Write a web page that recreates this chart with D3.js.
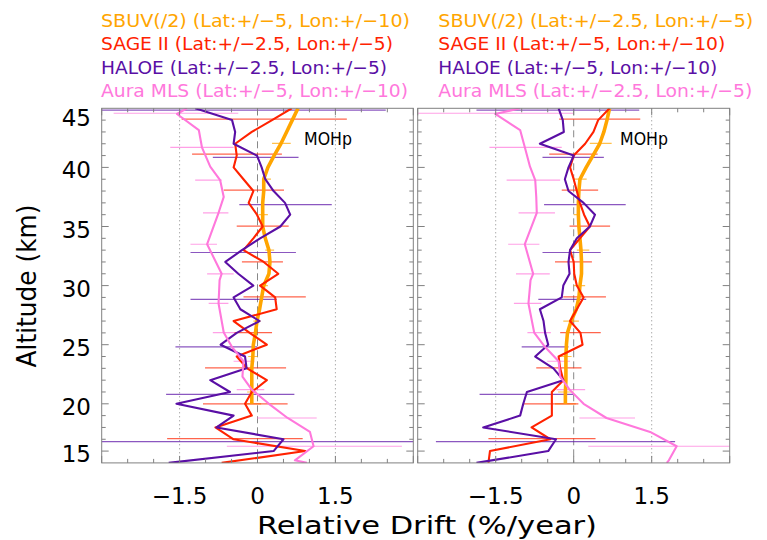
<!DOCTYPE html>
<html lang="en">
<head>
<meta charset="UTF-8">
<title>Relative Drift vs Altitude</title>
<script src="https://cdn.jsdelivr.net/npm/d3@7"></script>
<style>
  body { margin: 0; background: #fff; }
  svg { display: block; font-family: "DejaVu Sans", sans-serif; }
</style>
</head>
<body>
<svg id="chart" width="767" height="540"></svg>
<script>
// altitude grid (km) shared by SBUV, SAGE II and HALOE
const alts = [45, 44, 43, 42, 41, 40, 39, 38, 37, 36, 35, 34, 33, 32, 31, 30,
              29, 28, 27, 26, 25, 24, 23, 22, 21, 20, 19, 18, 17, 16, 15];
// Aura MLS sits on its own (pressure) levels
const mlsAlts = [45, 44.52, 43.16, 41.7, 40.06, 38.93, 37.5, 36.16, 33.5, 31.0, 30.46, 28.49,
                 26.03, 24.8, 23.6, 22.3, 21.2, 20.0, 18.8, 17.62, 16.41, 15.22, 15.0];

// ---- left panel: drift (%/year) ----
const sbuvLeft = [0.78, 0.67, 0.56, 0.45, 0.32, 0.2, 0.12, 0.12, 0.1, 0.1, 0.1, 0.15, 0.22, 0.24, 0.22, 0.12,
                  0.08, 0.04, -0.01, -0.04, -0.08, -0.09, -0.11, -0.11, -0.11, -0.11];
const sageLeft = [0.66, 0.28, -0.11, -0.43, -0.4, -0.46, -0.27, -0.08, -0.17, -0.01, 0.1, -0.08, -0.27, 0.12, 0.4, 0.05,
                  0.34, 0.37, -0.46, -0.15, 0.18, -0.4, -0.2, 0.18, -0.11, -0.24, -0.11, -0.81, -0.46, 0.92, -0.69];
const haloeLeft = [-1.2, -0.49, -0.43, -0.46, -0.01, 0.08, 0.15, 0.31, 0.53, 0.63, 0.44, 0.05, -0.3, -0.62, -0.37, -0.08,
                   -0.46, -0.33, 0.04, -0.4, -0.71, -0.24, -0.21, -0.91, -0.53, -1.56, -0.46, -0.79, 0.5, 0.31, -1.71];
const mlsLeft = [-1.36, -1.55, -1.13, -1.07, -0.91, -0.72, -0.65, -0.75, -0.97, -0.69, -0.73, -0.75,
                 -0.65, -0.49, -0.27, -0.29, -0.11, 0.22, 0.58, 1.01, 1.08, 0.72, 0.95];

// error bars: [altitude, low, high]
const sbuvErrLeft = [[42.04, 0.28, 0.64], [39, 0.1, 0.26], [36, 0.02, 0.2], [33, 0.15, 0.32], [30, 0.05, 0.2],
                     [27, -0.08, 0.06], [24, -0.18, 0], [21, -0.2, -0.02], [20, -0.24, 0.07]];
const sageErrLeft = [[44.09, -1.46, 1.72], [41.13, -1.26, 0.47], [38.08, -0.65, 0.51], [35.03, -0.4, 0.6], [32, -0.3, 0.49],
                     [29.05, -0.27, 0.93], [26.03, -0.45, 0.28], [23.04, -1.01, 0.55], [20, -1.05, 0.58], [17.06, -1.74, 0.87]];
const haloeErrLeft = [[44.85, -4.9, 2.47], [40.85, -0.86, 0.79], [36.85, -0.35, 1.43], [32.8, -1.29, 0.74],
                      [28.83, -1.29, 0.37], [24.82, -1.58, -0.01], [20.8, -1.76, 0.71], [16.8, -3.5, 3.5]];
const mlsErrLeft = [[44.58, -2.77, -0.37], [41.7, -1.68, -0.46], [38.93, -1.2, -0.69], [36.16, -1.05, -0.56],
                    [33.5, -1.29, -0.78], [31, -0.97, -0.46], [28.49, -0.94, -0.56], [26.03, -0.86, -0.44],
                    [23.6, -0.46, -0.06], [21.2, -0.4, 0.13], [18.8, -0.01, 1.14], [16.41, -0.59, 2.78]];

// ---- right panel ----
const sbuvRight = [0.69, 0.64, 0.58, 0.5, 0.37, 0.24, 0.12, 0.1, 0.09, 0.09, 0.1, 0.12, 0.14, 0.15, 0.15, 0.12,
                   0.1, 0.05, -0.05, -0.12, -0.14, -0.15, -0.15, -0.15, -0.16, -0.16];
const sageRight = [0.69, 0.47, 0.38, 0.22, 0, -0.07, 0, 0.06, 0.12, 0.2, 0.31, 0.12, -0.07, 0, 0.01, 0.06,
                   0.19, 0.06, -0.07, 0.13, 0.17, -0.29, -0.26, -0.2, -0.42, -0.42, -0.42, -0.81, -0.45, -1.61, -1.64];
const haloeRight = [-0.29, -0.21, -0.19, -0.65, 0, -0.1, -0.17, -0.1, 0.19, 0.41, 0.31, 0.06, -0.07, -0.1, -0.08, -0.2,
                    -0.23, -0.65, -0.58, -0.55, -0.49, -0.74, -0.39, -0.2, -0.9, -0.97, -1.03, -1.74, -0.34, -0.49, -1.87];
const mlsRight = [-1.03, -1.51, -1.03, -0.94, -0.84, -0.74, -0.72, -0.71, -0.94, -0.78, -0.83, -0.87,
                  -0.76, -0.55, -0.29, -0.26, -0.08, 0.19, 0.63, 1.47, 1.98, 1.83, 1.79];

const sbuvErrRight = [[42.04, 0.31, 0.73], [39, -0.01, 0.25], [36, 0, 0.12], [33, 0.06, 0.3], [30, 0, 0.22],
                      [27, -0.2, 0.1], [24, -0.26, -0.04], [21, -0.3, 0], [20, -0.36, 0.04]];
const sageErrRight = [[44.09, -0.28, 1.28], [41.13, -0.47, 0.46], [38.08, -0.23, 0.47], [35.03, -0.08, 0.7], [32, -0.36, 0.35],
                      [29.05, -0.2, 0.62], [26.03, -0.26, 0.52], [23.04, -0.72, 0.15], [20, -0.96, 0.09], [17.06, -1.64, 0.42]];
const haloeErrRight = [[44.85, -1.87, 1.26], [40.85, -0.6, 0.58], [36.85, -0.57, 1.0], [32.8, -0.6, 0.52],
                       [28.83, -0.68, 0.24], [24.82, -1.0, -0.1], [20.8, -1.81, -0.01], [16.8, -2.65, 1.95]];
const mlsErrRight = [[44.58, -2.99, -0.01], [41.7, -1.62, -0.23], [38.93, -1.29, -0.26], [36.16, -1.06, -0.36],
                     [33.5, -1.26, -0.66], [31, -1.11, -0.46], [28.49, -1.15, -0.62], [26.03, -0.89, -0.44],
                     [23.6, -0.51, -0.07], [21.2, -0.33, 0.22], [18.8, 0.11, 1.18], [16.41, 0.28, 3.5]];

// legends
const legendLeft = ["SBUV(/2) (Lat:+/\u22125, Lon:+/\u221210)", "SAGE II (Lat:+/\u22122.5, Lon:+/\u22125)",
                    "HALOE (Lat:+/\u22122.5, Lon:+/\u22125)", "Aura MLS (Lat:+/\u22125, Lon:+/\u221210)"];
const legendRight = ["SBUV(/2) (Lat:+/\u22122.5, Lon:+/\u22125)", "SAGE II (Lat:+/\u22125, Lon:+/\u221210)",
                     "HALOE (Lat:+/\u22125, Lon:+/\u221210)", "Aura MLS (Lat:+/\u22122.5, Lon:+/\u22125)"];
const legendLenLeft = [309, 292, 286, 307];
const legendLenRight = [315, 287, 279, 314];

const xTicks = [-1.5, 0, 1.5];
const xTickLabels = ["\u22121.5", "0", "1.5"];
const yTickVals = [16, 20, 25, 30, 35, 40, 44.4];
const yTickLabels = ["15", "20", "25", "30", "35", "40", "45"];

const colors = { sbuv: "#ffa500", sage: "#ff2200", haloe: "#5a0fa5", mls: "#ff78dc" };
const axisGray = "#808080";

const svg = d3.select("#chart");
svg.append("rect").attr("width", 767).attr("height", 540).attr("fill", "#fff");

const y = d3.scaleLinear().domain([15, 45]).range([462.9, 108.3]);

const panels = [
    { x0: 101.7, x1: 413.3, sbuv: sbuvLeft, sage: sageLeft, haloe: haloeLeft, mls: mlsLeft,
      sbuvErr: sbuvErrLeft, sageErr: sageErrLeft, haloeErr: haloeErrLeft, mlsErr: mlsErrLeft,
      legend: legendLeft, legendLen: legendLenLeft, legendX: 101, moh: 328, yLabels: true },
    { x0: 417.7, x1: 729.7, sbuv: sbuvRight, sage: sageRight, haloe: haloeRight, mls: mlsRight,
      sbuvErr: sbuvErrRight, sageErr: sageErrRight, haloeErr: haloeErrRight, mlsErr: mlsErrRight,
      legend: legendRight, legendLen: legendLenRight, legendX: 438.3, moh: 644, yLabels: false }
];

panels.forEach((p, i) => {
    const x = d3.scaleLinear().domain([-3, 3]).range([p.x0, p.x1]);
    const top = y.range()[1], bottom = y.range()[0];

    const clipId = "clip" + i;
    svg.append("clipPath").attr("id", clipId)
        .append("rect").attr("x", p.x0).attr("y", top).attr("width", p.x1 - p.x0).attr("height", bottom - top);

    const g = svg.append("g");
    const plot = g.append("g").attr("clip-path", `url(#${clipId})`);

    // reference lines
    [-1.5, 1.5].forEach(v => {
        plot.append("line").attr("x1", x(v)).attr("x2", x(v)).attr("y1", top).attr("y2", bottom)
            .attr("stroke", "#888").attr("stroke-width", 1).attr("stroke-dasharray", "1,3");
    });
    plot.append("line").attr("x1", x(0)).attr("x2", x(0)).attr("y1", top).attr("y2", bottom)
        .attr("stroke", "#888").attr("stroke-width", 1).attr("stroke-dasharray", "7,4");

    const line = d3.line().x(d => x(d[1])).y(d => y(d[0]));

    const series = [
        { key: "sbuv", a: alts.slice(0, p.sbuv.length), v: p.sbuv, err: p.sbuvErr, w: 3.6 },
        { key: "sage", a: alts, v: p.sage, err: p.sageErr, w: 2.1 },
        { key: "haloe", a: alts, v: p.haloe, err: p.haloeErr, w: 2.1 },
        { key: "mls", a: mlsAlts, v: p.mls, err: p.mlsErr, w: 2.1 }
    ];

    series.forEach(s => {
        plot.append("g").selectAll("line").data(s.err).join("line")
            .attr("x1", d => x(d[1])).attr("x2", d => x(d[2]))
            .attr("y1", d => y(d[0])).attr("y2", d => y(d[0]))
            .attr("stroke", colors[s.key]).attr("stroke-opacity", 0.7).attr("stroke-width", 1.2);
    });
    series.forEach(s => {
        plot.append("path").datum(s.a.map((a, k) => [a, s.v[k]]))
            .attr("d", line).attr("fill", "none")
            .attr("stroke", colors[s.key]).attr("stroke-width", s.w)
            .attr("stroke-linejoin", "round");
    });

    // frame and ticks
    g.append("rect").attr("x", p.x0).attr("y", top).attr("width", p.x1 - p.x0).attr("height", bottom - top)
        .attr("fill", "none").attr("stroke", axisGray).attr("stroke-width", 1);

    const xt = d3.range(-3, 3.01, 0.5);
    const major = v => Math.abs(v / 1.5 - Math.round(v / 1.5)) < 1e-6;
    g.append("g").selectAll("line").data(xt).join("line")
        .attr("x1", d => x(d)).attr("x2", d => x(d))
        .attr("y1", bottom).attr("y2", d => bottom - (major(d) ? 7 : 4))
        .attr("stroke", axisGray);
    g.append("g").selectAll("line").data(xt).join("line")
        .attr("x1", d => x(d)).attr("x2", d => x(d))
        .attr("y1", top).attr("y2", d => top + (major(d) ? 7 : 4))
        .attr("stroke", axisGray);

    const yt = d3.range(16, 45, 1);
    const ymajor = v => v === 16 || v % 5 === 0;
    g.append("g").selectAll("line").data(yt).join("line")
        .attr("x1", p.x0).attr("x2", d => p.x0 + (ymajor(d) ? 7 : 4))
        .attr("y1", d => y(d)).attr("y2", d => y(d)).attr("stroke", axisGray);
    g.append("g").selectAll("line").data(yt).join("line")
        .attr("x1", p.x1).attr("x2", d => p.x1 - (ymajor(d) ? 7 : 4))
        .attr("y1", d => y(d)).attr("y2", d => y(d)).attr("stroke", axisGray);

    // x tick labels
    g.append("g").selectAll("text").data(xTicks).join("text")
        .attr("x", d => x(d)).attr("y", 503.5)
        .attr("text-anchor", "middle").attr("font-size", 23)
        .text((d, k) => xTickLabels[k]);

    if (p.yLabels) {
        g.append("g").selectAll("text").data(yTickVals).join("text")
            .attr("x", 91).attr("y", d => y(d) + 11)
            .attr("text-anchor", "end").attr("font-size", 23)
            .text((d, k) => yTickLabels[k]);
    }

    // legend
    const keys = ["sbuv", "sage", "haloe", "mls"];
    const baselines = [27, 50, 74, 97];
    g.append("g").selectAll("text").data(p.legend).join("text")
        .attr("x", p.legendX).attr("y", (d, k) => baselines[k])
        .attr("font-size", 18)
        .attr("fill", (d, k) => colors[keys[k]])
        .attr("textLength", (d, k) => p.legendLen[k])
        .attr("lengthAdjust", "spacingAndGlyphs")
        .text(d => d);

    g.append("text").attr("x", p.moh).attr("y", 145).attr("text-anchor", "middle")
        .attr("font-size", 17).attr("fill", "#000")
        .attr("textLength", 48).attr("lengthAdjust", "spacingAndGlyphs")
        .text("MOHp");
});

svg.append("text").attr("x", 427).attr("y", 534).attr("text-anchor", "middle")
    .attr("font-size", 24).attr("textLength", 340).attr("lengthAdjust", "spacingAndGlyphs")
    .text("Relative Drift (%/year)");

svg.append("text").attr("transform", "translate(36,286) rotate(-90)")
    .attr("text-anchor", "middle").attr("font-size", 26)
    .attr("textLength", 163).attr("lengthAdjust", "spacingAndGlyphs")
    .text("Altitude (km)");
</script>
</body>
</html>
